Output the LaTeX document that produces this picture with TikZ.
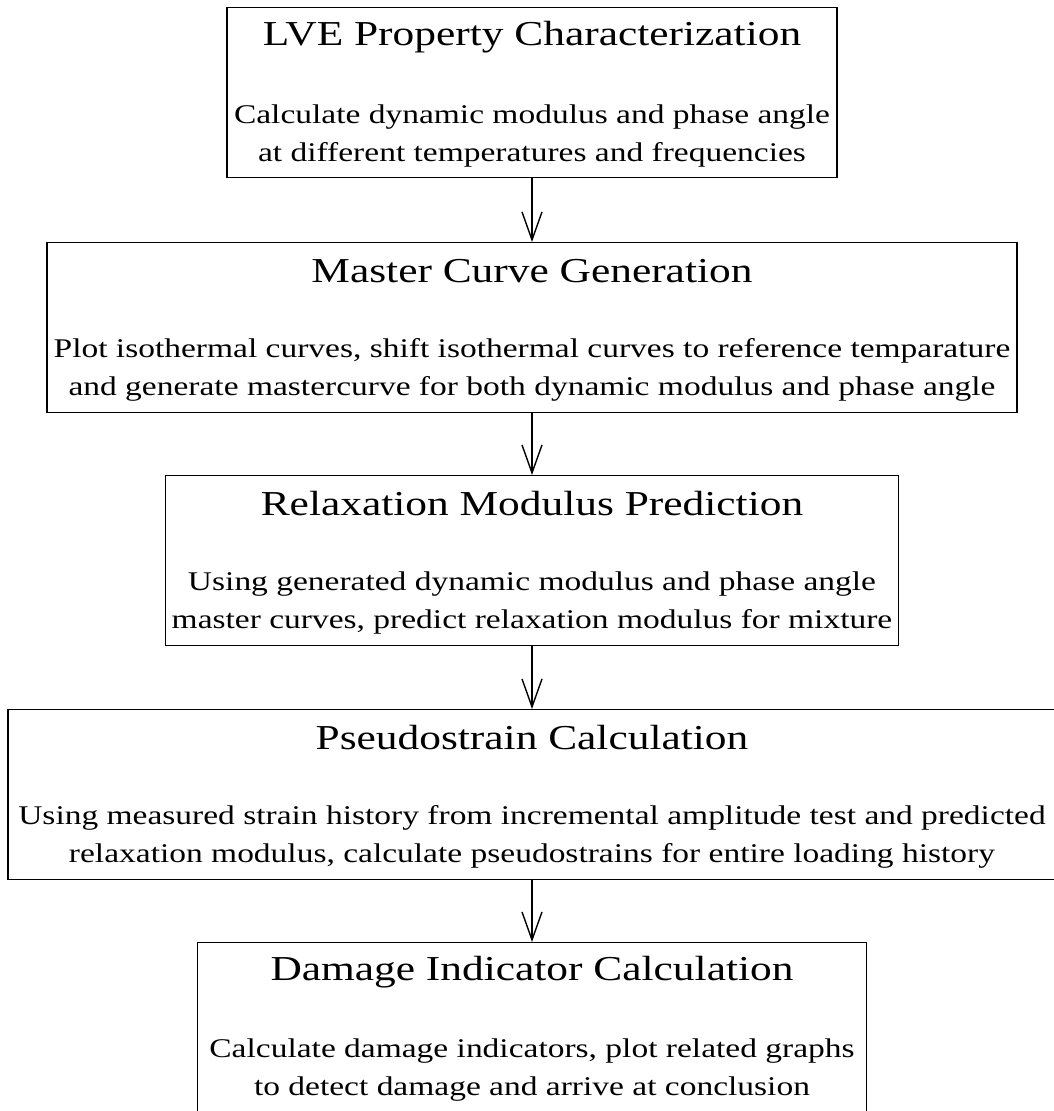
\documentclass[tikz,border=0pt]{standalone}
\usepackage{fontspec}
\setmainfont[FakeStretch=1.24]{Liberation Serif}
\usetikzlibrary{arrows.meta}
\begin{document}
\begin{tikzpicture}[x=1pt,y=-1pt,
    stage/.style={draw,line width=1.2pt,minimum height=170pt,anchor=north,inner sep=0pt},
    head/.style={font=\fontsize{35}{40}\selectfont},
    body/.style={font=\fontsize{27}{38}\selectfont,align=center},
    flow/.style={line width=1.4pt,-{Straight Barb[length=28pt,width=20pt,line width=1.4pt]}}]
    \useasboundingbox (0,0) rectangle (1053,1111);
    % boxes
    \node[stage,minimum width=610pt] (b1) at (532,7){};
    \node[stage,minimum width=970pt] (b2) at (532,242){};
    \node[stage,minimum width=733pt] (b3) at (532,475){};
    \node[stage,minimum width=1048pt] (b4) at (532,709){};
    \node[stage,minimum width=669pt,minimum height=180pt] (b5) at (532,942){};
    % titles
    \node[head] (t1) at (532,37){LVE Property Characterization};
    \node[head] (t2) at (532,271){Master Curve Generation};
    \node[head] (t3) at (532,504){Relaxation Modulus Prediction};
    \node[head] (t4) at (532,738){Pseudostrain Calculation};
    \node[head] (t5) at (532,972){Damage Indicator Calculation};
    % descriptions
    \node[body] (d1) at (532,136){Calculate dynamic modulus and phase angle\\at different temperatures and frequencies};
    \node[body] (d2) at (532,370){Plot isothermal curves, shift isothermal curves to reference temparature\\and generate mastercurve for both dynamic modulus and phase angle};
    \node[body] (d3) at (532,603){Using generated dynamic modulus and phase angle\\master curves, predict relaxation modulus for mixture};
    \node[body] (d4) at (532,837){Using measured strain history from incremental amplitude test and predicted\\relaxation modulus, calculate pseudostrains for entire loading history};
    \node[body] (d5) at (532,1070){Calculate damage indicators, plot related graphs\\to detect damage and arrive at conclusion};
    % arrows
    \draw[flow] (b1.south) -- (b2.north);
    \draw[flow] (b2.south) -- (b3.north);
    \draw[flow] (b3.south) -- (b4.north);
    \draw[flow] (b4.south) -- (b5.north);
\end{tikzpicture}
\end{document}
